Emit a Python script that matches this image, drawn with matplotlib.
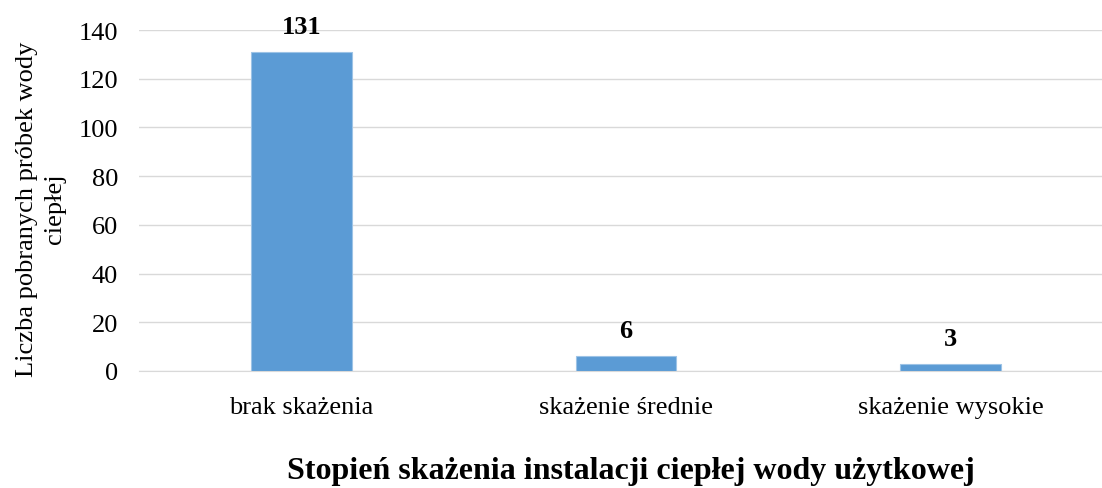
import matplotlib.pyplot as plt

# Dane
kategorie = ["brak skażenia", "skażenie średnie", "skażenie wysokie"]
liczba_probek = [131, 6, 3]
y_ticks = [0, 20, 40, 60, 80, 100, 120, 140]

plt.rcParams['font.family'] = ['Liberation Serif', 'DejaVu Serif']

fig = plt.figure(figsize=(11.02, 4.89), dpi=100)
ax = fig.add_axes([139 / 1102, 117 / 489, 974 / 1102, 341 / 489])

pozycje = list(range(len(kategorie)))
slupki = ax.bar(pozycje, liczba_probek, width=0.31, color="#5B9BD5",
                edgecolor="#9DC3E6", linewidth=0.8, zorder=3)

# Etykiety nad słupkami
for x, v in zip(pozycje, liczba_probek):
    ax.annotate(str(v), (x, v), xytext=(0, 10), textcoords="offset points",
                ha="center", va="bottom", fontsize=19, fontweight="bold")

ax.set_xlim(-0.5, 2.5)
ax.set_ylim(0, 140)
ax.set_yticks(y_ticks)
ax.set_xticks(pozycje)
ax.set_xticklabels(kategorie)
ax.tick_params(axis="y", length=0, pad=15, labelsize=19)
ax.tick_params(axis="x", length=0, pad=18, labelsize=19)

ax.grid(axis="y", color="#D9D9D9", linewidth=1, zorder=0)
for s in ["top", "right", "left"]:
    ax.spines[s].set_visible(False)
ax.spines["bottom"].set_color("#D9D9D9")

fig.text(41 / 1102, 1 - 209 / 489, "Liczba pobranych próbek wody\nciepłej",
         rotation=90, ha="center", va="center", multialignment="center",
         fontsize=19, linespacing=1.35)

fig.text(631 / 1102, 1 - 472 / 489,
         "Stopień skażenia instalacji ciepłej wody użytkowej",
         ha="center", va="center", fontsize=23, fontweight="bold")

fig.savefig("out.png", dpi=100)
